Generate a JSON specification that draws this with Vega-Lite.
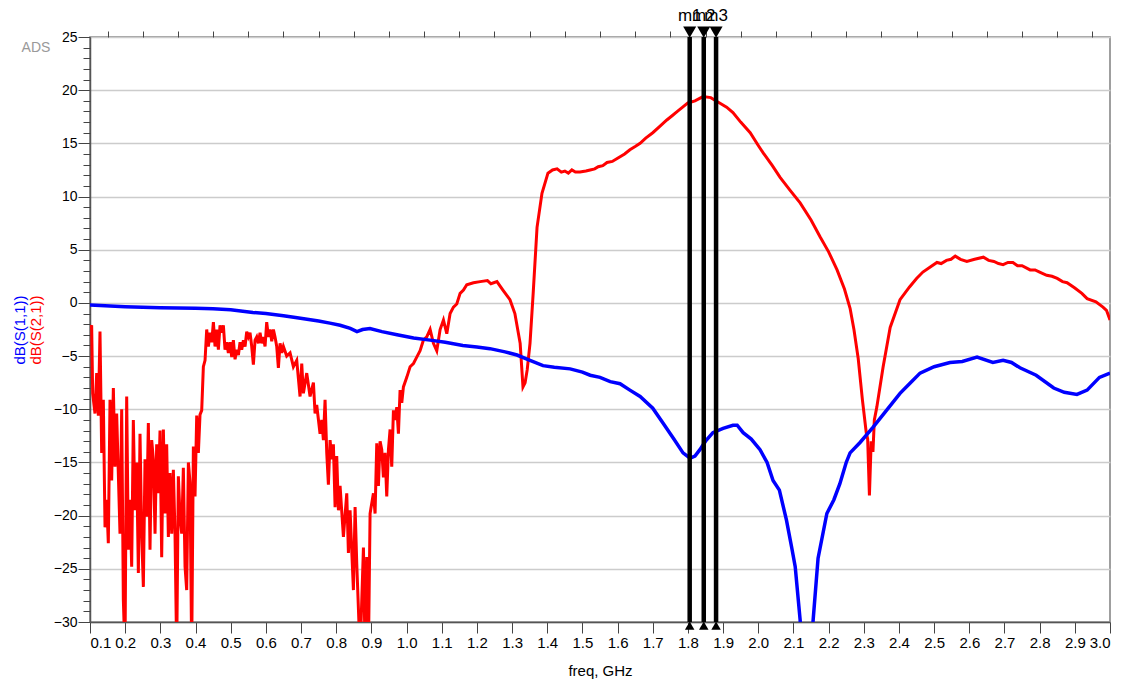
{
  "$schema": "https://vega.github.io/schema/vega-lite/v6.json",
  "width": 1020,
  "height": 585,
  "autosize": {"type": "none"},
  "padding": {"left": 90, "top": 37, "right": 15, "bottom": 62},
  "background": "white",
  "config": {"view": {"stroke": "#808080", "strokeWidth": 1.5}, "font": "Liberation Sans"},
  "datasets": {
    "s21": [
      {"freq":0.1000,"dB":-2.5},{"freq":0.1047,"dB":-2.1},{"freq":0.1076,"dB":-8.5},{"freq":0.1142,"dB":-10.4},{"freq":0.1190,"dB":-6.6},{"freq":0.1237,"dB":-10.6},{"freq":0.1284,"dB":-2.7},{"freq":0.1332,"dB":-14.1},{"freq":0.1379,"dB":-9.1},{"freq":0.1427,"dB":-21.1},{"freq":0.1474,"dB":-18.5},{"freq":0.1521,"dB":-22.6},{"freq":0.1569,"dB":-9.1},{"freq":0.1616,"dB":-16.7},{"freq":0.1664,"dB":-8.0},{"freq":0.1711,"dB":-15.4},{"freq":0.1758,"dB":-10.4},{"freq":0.1853,"dB":-21.7},{"freq":0.1901,"dB":-10.0},{"freq":0.1948,"dB":-27.9},{"freq":0.1995,"dB":-33},{"freq":0.2043,"dB":-8.8},{"freq":0.2090,"dB":-23.2},{"freq":0.2138,"dB":-18.5},{"freq":0.2185,"dB":-24.8},{"freq":0.2232,"dB":-11.0},{"freq":0.2280,"dB":-19.5},{"freq":0.2327,"dB":-15.0},{"freq":0.2375,"dB":-25.4},{"freq":0.2422,"dB":-12.3},{"freq":0.2469,"dB":-21.7},{"freq":0.2517,"dB":-26.7},{"freq":0.2564,"dB":-14.7},{"freq":0.2612,"dB":-20.1},{"freq":0.2659,"dB":-11.3},{"freq":0.2706,"dB":-23.2},{"freq":0.2754,"dB":-12.9},{"freq":0.2801,"dB":-14.7},{"freq":0.2849,"dB":-21.7},{"freq":0.2896,"dB":-13.3},{"freq":0.2943,"dB":-17.9},{"freq":0.2991,"dB":-12.0},{"freq":0.3038,"dB":-23.9},{"freq":0.3086,"dB":-11.9},{"freq":0.3133,"dB":-19.8},{"freq":0.3180,"dB":-13.3},{"freq":0.3228,"dB":-22.0},{"freq":0.3275,"dB":-16.0},{"freq":0.3323,"dB":-21.7},{"freq":0.3370,"dB":-15.7},{"freq":0.3417,"dB":-21.7},{"freq":0.3465,"dB":-33},{"freq":0.3512,"dB":-16.3},{"freq":0.3560,"dB":-20.1},{"freq":0.3607,"dB":-21.7},{"freq":0.3654,"dB":-15.5},{"freq":0.3702,"dB":-24.8},{"freq":0.3749,"dB":-27.0},{"freq":0.3797,"dB":-15.0},{"freq":0.3844,"dB":-16.9},{"freq":0.3891,"dB":-33},{"freq":0.3939,"dB":-13.5},{"freq":0.3986,"dB":-18.2},{"freq":0.4034,"dB":-10.6},{"freq":0.4081,"dB":-14.1},{"freq":0.4128,"dB":-10.5},{"freq":0.4176,"dB":-10.1},{"freq":0.4223,"dB":-6.0},{"freq":0.4271,"dB":-5.4},{"freq":0.4318,"dB":-2.5},{"freq":0.4365,"dB":-4.1},{"freq":0.4413,"dB":-2.8},{"freq":0.4460,"dB":-3.7},{"freq":0.4508,"dB":-1.8},{"freq":0.4555,"dB":-4.1},{"freq":0.4602,"dB":-2.5},{"freq":0.4650,"dB":-4.4},{"freq":0.4697,"dB":-2.1},{"freq":0.4745,"dB":-2.8},{"freq":0.4792,"dB":-2.1},{"freq":0.4839,"dB":-4.4},{"freq":0.4887,"dB":-3.7},{"freq":0.4934,"dB":-4.7},{"freq":0.4982,"dB":-3.7},{"freq":0.5029,"dB":-5.1},{"freq":0.5076,"dB":-3.5},{"freq":0.5124,"dB":-5.3},{"freq":0.5171,"dB":-4.4},{"freq":0.5219,"dB":-4.9},{"freq":0.5266,"dB":-3.7},{"freq":0.5313,"dB":-4.4},{"freq":0.5361,"dB":-3.5},{"freq":0.5408,"dB":-4.1},{"freq":0.5456,"dB":-2.7},{"freq":0.5503,"dB":-3.2},{"freq":0.5550,"dB":-2.8},{"freq":0.5598,"dB":-4.1},{"freq":0.5645,"dB":-5.8},{"freq":0.5693,"dB":-3.5},{"freq":0.5740,"dB":-3.2},{"freq":0.5787,"dB":-3.8},{"freq":0.5835,"dB":-2.8},{"freq":0.5882,"dB":-3.8},{"freq":0.5930,"dB":-3.2},{"freq":0.5977,"dB":-4.1},{"freq":0.6024,"dB":-1.8},{"freq":0.6072,"dB":-3.2},{"freq":0.6119,"dB":-2.5},{"freq":0.6167,"dB":-3.6},{"freq":0.6214,"dB":-2.5},{"freq":0.6261,"dB":-3.2},{"freq":0.6309,"dB":-4.1},{"freq":0.6356,"dB":-6.1},{"freq":0.6404,"dB":-3.8},{"freq":0.6451,"dB":-4.7},{"freq":0.6498,"dB":-4.1},{"freq":0.6593,"dB":-5.0},{"freq":0.6688,"dB":-4.7},{"freq":0.6783,"dB":-6.0},{"freq":0.6878,"dB":-5.4},{"freq":0.6972,"dB":-8.8},{"freq":0.7020,"dB":-5.7},{"freq":0.7067,"dB":-8.5},{"freq":0.7162,"dB":-6.6},{"freq":0.7257,"dB":-8.8},{"freq":0.7352,"dB":-7.5},{"freq":0.7399,"dB":-10.4},{"freq":0.7446,"dB":-9.6},{"freq":0.7541,"dB":-12.3},{"freq":0.7589,"dB":-11.0},{"freq":0.7636,"dB":-12.9},{"freq":0.7683,"dB":-9.1},{"freq":0.7731,"dB":-14.1},{"freq":0.7778,"dB":-17.1},{"freq":0.7826,"dB":-12.9},{"freq":0.7873,"dB":-14.7},{"freq":0.7920,"dB":-13.3},{"freq":0.7968,"dB":-19.2},{"freq":0.8015,"dB":-14.4},{"freq":0.8063,"dB":-19.5},{"freq":0.8110,"dB":-17.2},
      {"freq":0.8205,"dB":-22.0},{"freq":0.8300,"dB":-17.9},{"freq":0.8347,"dB":-23.5},{"freq":0.8394,"dB":-19.5},{"freq":0.8489,"dB":-27.0},{"freq":0.8537,"dB":-19.2},{"freq":0.8584,"dB":-24.5},{"freq":0.8679,"dB":-33},{"freq":0.8774,"dB":-23.0},{"freq":0.8821,"dB":-33},{"freq":0.8868,"dB":-23.9},{"freq":0.8916,"dB":-33},{"freq":0.8963,"dB":-19.8},{"freq":0.9058,"dB":-17.9},{"freq":0.9105,"dB":-19.8},{"freq":0.9153,"dB":-13.2},{"freq":0.9200,"dB":-17.2},{"freq":0.9248,"dB":-13.0},{"freq":0.9295,"dB":-13.8},{"freq":0.9342,"dB":-16.4},{"freq":0.9390,"dB":-14.1},{"freq":0.9437,"dB":-18.2},{"freq":0.9485,"dB":-13.8},{"freq":0.9532,"dB":-11.9},{"freq":0.9579,"dB":-15.4},{"freq":0.9627,"dB":-10.1},{"freq":0.9674,"dB":-11.0},{"freq":0.9722,"dB":-9.8},{"freq":0.9769,"dB":-12.3},{"freq":0.9816,"dB":-8.2},{"freq":0.9864,"dB":-9.4},{"freq":0.9911,"dB":-7.9},{"freq":1.0006,"dB":-7.0},{"freq":1.0101,"dB":-6.0},{"freq":1.0196,"dB":-5.7},{"freq":1.0290,"dB":-5.1},{"freq":1.0385,"dB":-4.5},{"freq":1.0480,"dB":-3.5},{"freq":1.0575,"dB":-3.2},{"freq":1.0670,"dB":-2.5},{"freq":1.0764,"dB":-3.8},{"freq":1.0859,"dB":-4.5},{"freq":1.0954,"dB":-2.5},{"freq":1.1049,"dB":-1.6},{"freq":1.1144,"dB":-2.9},{"freq":1.1238,"dB":-1.0},{"freq":1.1333,"dB":-0.4},{"freq":1.1428,"dB":-0.1},{"freq":1.1523,"dB":0.9},{"freq":1.1618,"dB":1.2},{"freq":1.1712,"dB":1.7},{"freq":1.1902,"dB":1.9},{"freq":1.2092,"dB":2.0},
      {"freq":1.23,"dB":2.1},{"freq":1.24,"dB":1.8},{"freq":1.257,"dB":2.0},{"freq":1.274,"dB":1.2},{"freq":1.294,"dB":0.3},{"freq":1.308,"dB":-1.0},{"freq":1.323,"dB":-3.8},{"freq":1.331,"dB":-7.9},{"freq":1.337,"dB":-7.5},{"freq":1.343,"dB":-6.3},{"freq":1.351,"dB":-3.8},{"freq":1.36,"dB":0.9},{"freq":1.371,"dB":7.1},{"freq":1.385,"dB":10.3},{"freq":1.402,"dB":12.2},{"freq":1.415,"dB":12.5},{"freq":1.428,"dB":12.6},{"freq":1.44,"dB":12.3},{"freq":1.45,"dB":12.4},{"freq":1.46,"dB":12.2},{"freq":1.47,"dB":12.5},{"freq":1.48,"dB":12.3},{"freq":1.493,"dB":12.3},{"freq":1.51,"dB":12.4},{"freq":1.522,"dB":12.5},{"freq":1.535,"dB":12.6},{"freq":1.545,"dB":12.8},{"freq":1.558,"dB":12.9},{"freq":1.57,"dB":13.2},{"freq":1.585,"dB":13.3},{"freq":1.6,"dB":13.6},{"freq":1.62,"dB":14.0},{"freq":1.635,"dB":14.4},{"freq":1.65,"dB":14.7},{"freq":1.664,"dB":15.0},{"freq":1.68,"dB":15.5},{"freq":1.7,"dB":16.0},{"freq":1.72,"dB":16.6},{"freq":1.74,"dB":17.2},{"freq":1.755,"dB":17.6},{"freq":1.77,"dB":18.0},{"freq":1.785,"dB":18.4},{"freq":1.8,"dB":18.8},{"freq":1.82,"dB":19.0},{"freq":1.843,"dB":19.4},{"freq":1.865,"dB":19.3},{"freq":1.89,"dB":18.8},{"freq":1.91,"dB":18.4},{"freq":1.928,"dB":17.9},{"freq":1.95,"dB":17.0},{"freq":1.977,"dB":16.0},{"freq":2.0,"dB":14.8},{"freq":2.014,"dB":14.1},{"freq":2.04,"dB":12.9},{"freq":2.062,"dB":11.8},{"freq":2.09,"dB":10.6},{"freq":2.119,"dB":9.4},{"freq":2.15,"dB":7.8},{"freq":2.176,"dB":6.2},{"freq":2.2,"dB":4.8},{"freq":2.224,"dB":3.1},{"freq":2.245,"dB":1.3},{"freq":2.261,"dB":-0.5},{"freq":2.272,"dB":-2.5},{"freq":2.284,"dB":-5.2},{"freq":2.296,"dB":-9.1},{"freq":2.307,"dB":-12.2},{"freq":2.311,"dB":-12.8},{"freq":2.316,"dB":-18.1},{"freq":2.321,"dB":-13.0},{"freq":2.326,"dB":-14.0},{"freq":2.33,"dB":-11.0},{"freq":2.337,"dB":-9.8},{"freq":2.355,"dB":-6.0},{"freq":2.375,"dB":-2.3},{"freq":2.403,"dB":0.3},{"freq":2.43,"dB":1.5},{"freq":2.45,"dB":2.3},{"freq":2.468,"dB":2.9},{"freq":2.49,"dB":3.4},{"freq":2.508,"dB":3.8},{"freq":2.52,"dB":3.7},{"freq":2.535,"dB":4.0},{"freq":2.548,"dB":4.1},{"freq":2.56,"dB":4.4},{"freq":2.575,"dB":4.1},{"freq":2.593,"dB":3.9},{"freq":2.615,"dB":4.1},{"freq":2.64,"dB":4.3},{"freq":2.655,"dB":4.0},{"freq":2.67,"dB":3.9},{"freq":2.683,"dB":3.7},{"freq":2.696,"dB":3.6},{"freq":2.71,"dB":3.8},{"freq":2.724,"dB":3.8},{"freq":2.737,"dB":3.5},{"freq":2.75,"dB":3.5},{"freq":2.773,"dB":3.1},{"freq":2.787,"dB":3.1},{"freq":2.8,"dB":2.9},{"freq":2.82,"dB":2.6},{"freq":2.835,"dB":2.5},{"freq":2.85,"dB":2.3},{"freq":2.865,"dB":2.0},{"freq":2.878,"dB":1.9},{"freq":2.9,"dB":1.4},{"freq":2.92,"dB":0.9},{"freq":2.935,"dB":0.4},{"freq":2.96,"dB":0.1},{"freq":2.98,"dB":-0.4},{"freq":2.99,"dB":-0.7},{"freq":3.0,"dB":-1.6}
    ],
    "s11": [
      {"freq":0.1,"dB":-0.2},{"freq":0.2,"dB":-0.35},{"freq":0.3,"dB":-0.45},{"freq":0.4,"dB":-0.5},{"freq":0.45,"dB":-0.55},{"freq":0.5,"dB":-0.65},{"freq":0.563,"dB":-0.9},{"freq":0.6,"dB":-1.0},{"freq":0.65,"dB":-1.2},{"freq":0.689,"dB":-1.4},{"freq":0.75,"dB":-1.7},{"freq":0.782,"dB":-1.9},{"freq":0.811,"dB":-2.1},{"freq":0.84,"dB":-2.4},{"freq":0.859,"dB":-2.7},{"freq":0.875,"dB":-2.5},{"freq":0.896,"dB":-2.4},{"freq":0.93,"dB":-2.7},{"freq":0.973,"dB":-3.0},{"freq":1.02,"dB":-3.3},{"freq":1.067,"dB":-3.5},{"freq":1.11,"dB":-3.7},{"freq":1.16,"dB":-4.0},{"freq":1.2,"dB":-4.15},{"freq":1.237,"dB":-4.3},{"freq":1.28,"dB":-4.6},{"freq":1.314,"dB":-4.9},{"freq":1.351,"dB":-5.4},{"freq":1.388,"dB":-5.9},{"freq":1.42,"dB":-6.05},{"freq":1.465,"dB":-6.2},{"freq":1.5,"dB":-6.5},{"freq":1.522,"dB":-6.8},{"freq":1.55,"dB":-7.0},{"freq":1.579,"dB":-7.4},{"freq":1.607,"dB":-7.6},{"freq":1.635,"dB":-8.2},{"freq":1.664,"dB":-8.8},{"freq":1.7,"dB":-9.9},{"freq":1.729,"dB":-11.3},{"freq":1.76,"dB":-12.8},{"freq":1.786,"dB":-14.1},{"freq":1.806,"dB":-14.6},{"freq":1.82,"dB":-14.4},{"freq":1.834,"dB":-13.8},{"freq":1.85,"dB":-13.0},{"freq":1.871,"dB":-12.2},{"freq":1.9,"dB":-11.8},{"freq":1.928,"dB":-11.5},{"freq":1.94,"dB":-11.5},{"freq":1.957,"dB":-12.2},{"freq":1.98,"dB":-12.8},{"freq":2.005,"dB":-13.8},{"freq":2.025,"dB":-15.0},{"freq":2.042,"dB":-16.7},{"freq":2.06,"dB":-17.6},{"freq":2.08,"dB":-20.4},{"freq":2.095,"dB":-23.0},{"freq":2.105,"dB":-24.8},{"freq":2.119,"dB":-29.8},{"freq":2.135,"dB":-40},{"freq":2.156,"dB":-29.8},{"freq":2.17,"dB":-24.0},{"freq":2.195,"dB":-19.8},{"freq":2.215,"dB":-18.5},{"freq":2.232,"dB":-17.0},{"freq":2.25,"dB":-15.0},{"freq":2.261,"dB":-14.1},{"freq":2.29,"dB":-13.1},{"freq":2.326,"dB":-11.7},{"freq":2.36,"dB":-10.3},{"freq":2.403,"dB":-8.5},{"freq":2.43,"dB":-7.6},{"freq":2.46,"dB":-6.6},{"freq":2.5,"dB":-6.0},{"freq":2.545,"dB":-5.6},{"freq":2.58,"dB":-5.5},{"freq":2.622,"dB":-5.1},{"freq":2.667,"dB":-5.6},{"freq":2.696,"dB":-5.4},{"freq":2.72,"dB":-5.6},{"freq":2.744,"dB":-6.1},{"freq":2.79,"dB":-6.8},{"freq":2.84,"dB":-8.0},{"freq":2.87,"dB":-8.4},{"freq":2.906,"dB":-8.6},{"freq":2.935,"dB":-8.2},{"freq":2.97,"dB":-7.0},{"freq":3.0,"dB":-6.6}
    ],
    "markers": [
      {"name": "m1", "freq": 1.805},
      {"name": "m2", "freq": 1.845},
      {"name": "m3", "freq": 1.88}
    ]
  },
  "layer": [
    {
      "data": {"name": "s21"},
      "mark": {"type": "line", "color": "#ff0000", "strokeWidth": 3, "clip": true},
      "encoding": {
        "x": {"field": "freq", "type": "quantitative",
          "scale": {"domain": [0.1, 3.0], "nice": false, "zero": false},
          "axis": {"values": [0.1,0.2,0.3,0.4,0.5,0.6,0.7,0.8,0.9,1.0,1.1,1.2,1.3,1.4,1.5,1.6,1.7,1.8,1.9,2.0,2.1,2.2,2.3,2.4,2.5,2.6,2.7,2.8,2.9,3.0],
            "format": ".1f", "grid": false, "tickSize": 11, "tickColor": "#444", "domainColor": "#555", "domainWidth": 1.5,
            "labelFontSize": 15, "labelColor": "#000", "labelPadding": 2, "labelFont": "Liberation Sans",
            "title": "freq, GHz", "titleFontSize": 15, "titleFontWeight": "normal", "titleColor": "#000", "titlePadding": 13, "titleFont": "Liberation Sans"}},
        "y": {"field": "dB", "type": "quantitative",
          "scale": {"domain": [-30, 25], "nice": false, "zero": false},
          "axis": {"values": [-30,-25,-20,-15,-10,-5,0,5,10,15,20,25],
            "grid": true, "gridColor": "#cccccc", "gridWidth": 1.5, "tickSize": 12, "tickColor": "#444", "domainColor": "#555", "domainWidth": 1.5,
            "labelFontSize": 14, "labelColor": "#000", "labelPadding": 1, "labelFont": "Liberation Sans",
            "title": "dB(S(2,1))", "titleColor": "#ff0000", "titleFontSize": 15, "titleFontWeight": "normal", "titleFont": "Liberation Sans",
            "titleX": -55, "titleBaseline": "middle", "titleAlign": "center"}}
      }
    },
    {
      "data": {"name": "s11"},
      "mark": {"type": "line", "color": "#0000ff", "strokeWidth": 3.5, "clip": true},
      "encoding": {
        "x": {"field": "freq", "type": "quantitative",
          "axis": {"values": [0.15,0.25,0.35,0.45,0.55,0.65,0.75,0.85,0.95,1.05,1.15,1.25,1.35,1.45,1.55,1.65,1.75,1.85,1.95,2.05,2.15,2.25,2.35,2.45,2.55,2.65,2.75,2.85,2.95],
            "labels": false, "domain": false, "grid": false, "tickSize": 6, "tickColor": "#444", "title": null}},
        "y": {"field": "dB", "type": "quantitative",
          "axis": {"orient": "left", "offset": 0,
            "values": [-29,-28,-27,-26,-24,-23,-22,-21,-19,-18,-17,-16,-14,-13,-12,-11,-9,-8,-7,-6,-4,-3,-2,-1,1,2,3,4,6,7,8,9,11,12,13,14,16,17,18,19,21,22,23,24],
            "labels": false, "domain": false, "grid": false, "tickSize": 7, "tickColor": "#444",
            "title": "dB(S(1,1))", "titleColor": "#0000ff", "titleFontSize": 15, "titleFontWeight": "normal", "titleFont": "Liberation Sans",
            "titleX": -71, "titleBaseline": "middle", "titleAlign": "center"}}
      }
    },
    {
      "data": {"name": "markers"},
      "mark": {"type": "rule", "color": "#000000", "strokeWidth": 4.5},
      "encoding": {"x": {"field": "freq", "type": "quantitative", "axis": null}}
    },
    {
      "data": {"name": "markers"},
      "mark": {"type": "point", "shape": "triangle-down", "filled": true, "color": "#000000", "size": 170, "opacity": 1},
      "encoding": {
        "x": {"field": "freq", "type": "quantitative", "axis": null},
        "y": {"datum": 25.45, "axis": null}
      }
    },
    {
      "data": {"name": "markers"},
      "mark": {"type": "point", "shape": "triangle-up", "filled": true, "color": "#000000", "size": 90, "opacity": 1},
      "encoding": {
        "x": {"field": "freq", "type": "quantitative", "axis": null},
        "y": {"datum": -30.35, "axis": null}
      }
    },
    {
      "data": {"name": "markers"},
      "mark": {"type": "text", "fontSize": 17, "font": "Liberation Sans", "color": "#000000", "dy": -16, "baseline": "alphabetic", "align": "center"},
      "encoding": {
        "x": {"field": "freq", "type": "quantitative", "axis": null},
        "y": {"datum": 25, "axis": null},
        "text": {"field": "name"}
      }
    },
    {
      "data": {"values": [{"label": "ADS"}]},
      "mark": {"type": "text", "fontSize": 14, "font": "Liberation Sans", "color": "#999999", "dx": -54, "baseline": "middle", "align": "center"},
      "encoding": {
        "x": {"datum": 0.1, "axis": null},
        "y": {"datum": 24, "axis": null},
        "text": {"field": "label"}
      }
    }
  ],
  "resolve": {"axis": {"x": "independent", "y": "independent"}}
}
